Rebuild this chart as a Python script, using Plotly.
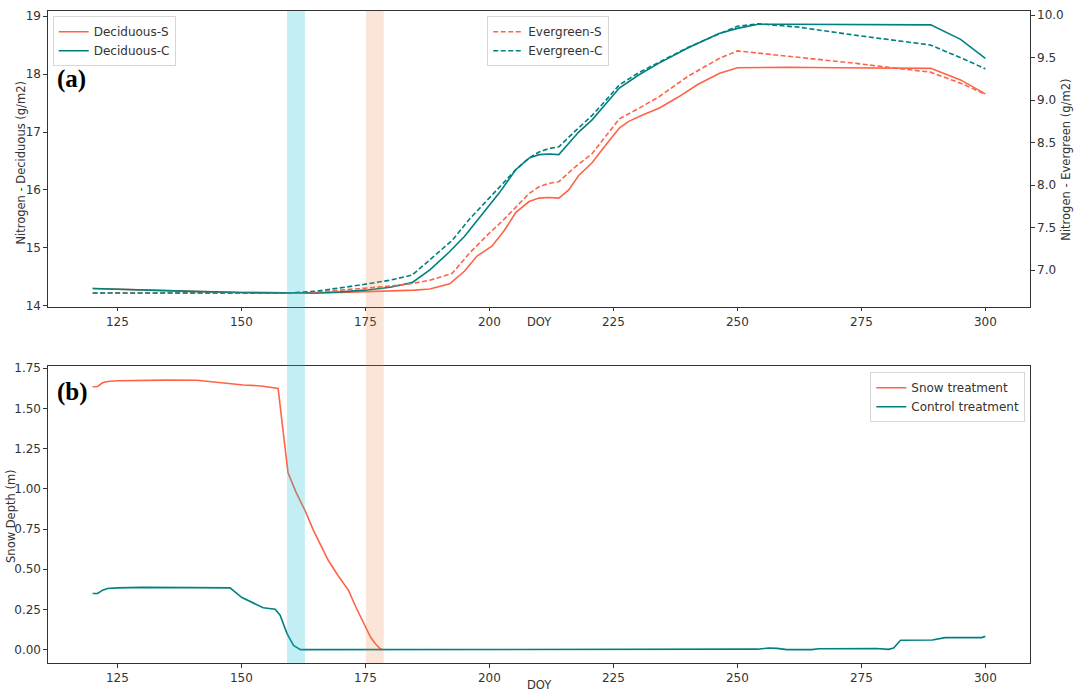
import plotly.graph_objects as go

# ---------------- data ----------------
dec_s_doy = [120, 130, 140, 150, 160, 165, 170, 175, 180, 185, 188, 192, 195, 197.5, 200.5, 203, 205.3, 208, 210,
             212, 214, 216, 218, 220.7, 223.5, 226.2, 228, 231, 234.2, 238, 242, 246.3, 250, 255, 260, 270, 280,
             289, 295, 300]
dec_s_val = [14.30, 14.27, 14.25, 14.23, 14.22, 14.22, 14.23, 14.24, 14.25, 14.27, 14.29, 14.38, 14.60, 14.86,
             15.03, 15.30, 15.61, 15.80, 15.86, 15.87, 15.86, 16.00, 16.25, 16.47, 16.78, 17.07, 17.18, 17.30,
             17.41, 17.60, 17.82, 18.01, 18.11, 18.12, 18.12, 18.11, 18.11, 18.10, 17.90, 17.66]

dec_c_doy = [120, 130, 140, 150, 160, 165, 170, 175, 180, 184.4, 188, 191.8, 195, 197, 199.5, 202, 205.3, 208,
             210, 212, 214, 216, 218, 220.7, 223.5, 226.2, 230, 234.2, 240, 246.3, 250, 254.2, 260, 270, 280,
             289, 295, 300]
dec_c_val = [14.30, 14.27, 14.25, 14.23, 14.22, 14.22, 14.24, 14.27, 14.32, 14.40, 14.62, 14.92, 15.20, 15.42,
             15.68, 15.95, 16.35, 16.55, 16.61, 16.62, 16.61, 16.80, 17.00, 17.21, 17.50, 17.76, 17.98, 18.19,
             18.45, 18.70, 18.79, 18.86, 18.86, 18.86, 18.86, 18.85, 18.60, 18.27]

eve_s_doy = [120, 140, 160, 165, 170, 173.6, 180, 184.4, 188, 192.5, 196, 199.9, 202.5, 205.3, 208, 210, 212,
             214, 217, 220.7, 223.5, 226.2, 230, 234.2, 240, 246.3, 250, 255, 262.3, 274.4, 280, 288.9, 295, 300]
eve_s_val = [6.73, 6.73, 6.73, 6.74, 6.76, 6.78, 6.81, 6.84, 6.88, 6.96, 7.20, 7.43, 7.57, 7.74, 7.90, 7.98,
             8.02, 8.04, 8.20, 8.37, 8.58, 8.78, 8.90, 9.04, 9.28, 9.49, 9.58, 9.55, 9.51, 9.43, 9.39, 9.33,
             9.20, 9.07]

eve_c_doy = [120, 140, 160, 165, 170, 173.6, 180, 184.4, 188, 192.5, 196, 199.9, 202.5, 205.3, 208, 210, 212,
             214, 217, 220.7, 223.5, 226.2, 230, 234.2, 240, 246.3, 250, 254.2, 262.3, 274.4, 280, 288.9, 295, 300]
eve_c_val = [6.73, 6.73, 6.73, 6.75, 6.79, 6.82, 6.88, 6.94, 7.12, 7.35, 7.60, 7.84, 8.00, 8.18, 8.32, 8.39,
             8.43, 8.45, 8.62, 8.82, 9.00, 9.18, 9.32, 9.45, 9.62, 9.78, 9.87, 9.90, 9.86, 9.76, 9.72, 9.65,
             9.50, 9.37]

snow_doy = [120, 121, 122, 123, 125, 130, 135, 141, 145, 148, 150.4, 154, 156.8, 157.4, 158.4, 159.4, 161,
            162.8, 164.5, 167.5, 169.5, 171.6, 173, 175, 176, 177, 178, 178.5]
snow_val = [1.635, 1.637, 1.660, 1.668, 1.672, 1.675, 1.676, 1.675, 1.662, 1.656, 1.646, 1.640, 1.631, 1.625,
            1.36, 1.10, 0.98, 0.867, 0.743, 0.556, 0.46, 0.369, 0.27, 0.141, 0.08, 0.037, 0.006, 0.0]

ctrl_doy = [120, 121, 122, 123, 125, 130, 140, 145, 147.7, 150.1, 152.4, 154.4, 156.8, 157.8, 159.2, 160.5,
            161.9, 170, 200, 237.5, 245, 250, 254, 256.3, 258, 260, 265, 266.4, 270, 274, 278, 280.5, 281.5,
            282.9, 285, 289.3, 291.9, 295, 299.3, 300]
ctrl_val = [0.349, 0.350, 0.370, 0.380, 0.384, 0.387, 0.386, 0.385, 0.384, 0.324, 0.290, 0.261, 0.251, 0.214,
            0.100, 0.027, 0.0, 0, 0, 0.003, 0.002, 0.0, 0.003, 0.010, 0.008, 0.0, 0.0, 0.006, 0.006, 0.010,
            0.007, 0.002, 0.010, 0.058, 0.058, 0.060, 0.075, 0.075, 0.075, 0.083]

band_cyan = [159.2, 162.8]
band_orange = [175.1, 178.7]

# ---------------- style ----------------
RED = "#ff6347"
TEAL = "#008080"
AX = "#333333"
FONT = "DejaVu Sans"

fig = go.Figure()

fig.add_trace(go.Scatter(x=dec_s_doy, y=dec_s_val, mode="lines", name="Deciduous-S",
                         line=dict(color=RED, width=1.6), xaxis="x", yaxis="y", legend="legend"))
fig.add_trace(go.Scatter(x=dec_c_doy, y=dec_c_val, mode="lines", name="Deciduous-C",
                         line=dict(color=TEAL, width=1.6), xaxis="x", yaxis="y", legend="legend"))
fig.add_trace(go.Scatter(x=eve_s_doy, y=eve_s_val, mode="lines", name="Evergreen-S",
                         line=dict(color=RED, width=1.6, dash="5px,2.5px"), xaxis="x", yaxis="y2",
                         legend="legend2"))
fig.add_trace(go.Scatter(x=eve_c_doy, y=eve_c_val, mode="lines", name="Evergreen-C",
                         line=dict(color=TEAL, width=1.6, dash="5px,2.5px"), xaxis="x", yaxis="y2",
                         legend="legend2"))
fig.add_trace(go.Scatter(x=snow_doy, y=snow_val, mode="lines", name="Snow treatment",
                         line=dict(color=RED, width=1.6), xaxis="x2", yaxis="y3", legend="legend3"))
fig.add_trace(go.Scatter(x=ctrl_doy, y=ctrl_val, mode="lines", name="Control treatment",
                         line=dict(color=TEAL, width=1.6), xaxis="x2", yaxis="y3", legend="legend3"))

# shaded bands spanning both panels
for (a, b), col in [(band_cyan, "rgba(23,190,207,0.26)"), (band_orange, "rgba(230,126,60,0.2)")]:
    fig.add_shape(type="rect", xref="x", yref="paper", x0=a, x1=b, y0=0, y1=1,
                  fillcolor=col, line=dict(width=0), layer="above")

axis_common = dict(showline=True, linecolor=AX, linewidth=1.2, ticks="outside", ticklen=3.5,
                   tickcolor=AX, tickfont=dict(family=FONT, size=12, color=AX), showgrid=False,
                   zeroline=False, automargin=False)

TOP_DOM = [0.5465, 1.0]
BOT_DOM = [0.0, 0.4555]
XR = [111, 309]

leg_common = dict(yanchor="top", bgcolor="rgba(255,255,255,0.85)", bordercolor="#d6d6d6", borderwidth=1,
                  font=dict(family=FONT, size=12, color=AX), tracegroupgap=0, itemwidth=30)

fig.update_layout(
    width=1076, height=693,
    margin=dict(l=48, r=46, t=11, b=30, autoexpand=False),
    paper_bgcolor="white", plot_bgcolor="rgba(0,0,0,0)",
    font=dict(family=FONT, size=12, color=AX),
    xaxis=dict(domain=[0, 1], anchor="y", range=XR, tickvals=[125, 150, 175, 200, 225, 250, 275, 300],
               mirror=True, **axis_common),
    yaxis=dict(domain=TOP_DOM, anchor="x", range=[13.985, 19.09], tickvals=[14, 15, 16, 17, 18, 19],
               **axis_common),
    yaxis2=dict(overlaying="y", side="right", anchor="x", range=[6.568, 10.05],
                tickvals=[7.0, 7.5, 8.0, 8.5, 9.0, 9.5, 10.0], tickformat=".1f", **axis_common),
    xaxis2=dict(domain=[0, 1], anchor="y3", range=XR, tickvals=[125, 150, 175, 200, 225, 250, 275, 300],
                mirror=True, **axis_common),
    yaxis3=dict(domain=BOT_DOM, anchor="x2", range=[-0.083, 1.764],
                tickvals=[0, 0.25, 0.5, 0.75, 1.0, 1.25, 1.5, 1.75], tickformat=".2f", mirror=True,
                **axis_common),
    legend=dict(x=0.0048, y=0.992, xanchor="left", **leg_common),
    legend2=dict(x=0.4473, y=0.992, xanchor="left", **leg_common),
    legend3=dict(x=0.9952, y=0.4459, xanchor="right", **leg_common),
)

ann_font = dict(family=FONT, size=11.5, color=AX)
annotations = [
    dict(text="<b>(a)</b>", x=0.007, y=0.896, xref="paper", yref="paper", xanchor="left", yanchor="middle",
         showarrow=False, font=dict(family="Liberation Serif", size=25, color="black")),
    dict(text="<b>(b)</b>", x=0.007, y=0.416, xref="paper", yref="paper", xanchor="left", yanchor="middle",
         showarrow=False, font=dict(family="Liberation Serif", size=25, color="black")),
    dict(text="Nitrogen - Deciduous (g/m2)", x=-0.0278, y=0.767, xref="paper", yref="paper",
         xanchor="center", yanchor="middle", textangle=-90, showarrow=False, font=ann_font),
    dict(text="Nitrogen - Evergreen (g/m2)", x=1.0367, y=0.772, xref="paper", yref="paper",
         xanchor="center", yanchor="middle", textangle=-90, showarrow=False, font=ann_font),
    dict(text="Snow Depth (m)", x=-0.0377, y=0.2255, xref="paper", yref="paper",
         xanchor="center", yanchor="middle", textangle=-90, showarrow=False, font=ann_font),
    dict(text="DOY", x=0.5, y=0.523, xref="paper", yref="paper", xanchor="center", yanchor="middle",
         showarrow=False, font=ann_font),
    dict(text="DOY", x=0.5, y=-0.033, xref="paper", yref="paper", xanchor="center", yanchor="middle",
         showarrow=False, font=ann_font),
]
fig.update_layout(annotations=annotations)

fig.write_html("out.html", config={"displayModeBar": False},
               post_script="document.body.style.margin='0px';document.body.style.overflow='hidden';")
